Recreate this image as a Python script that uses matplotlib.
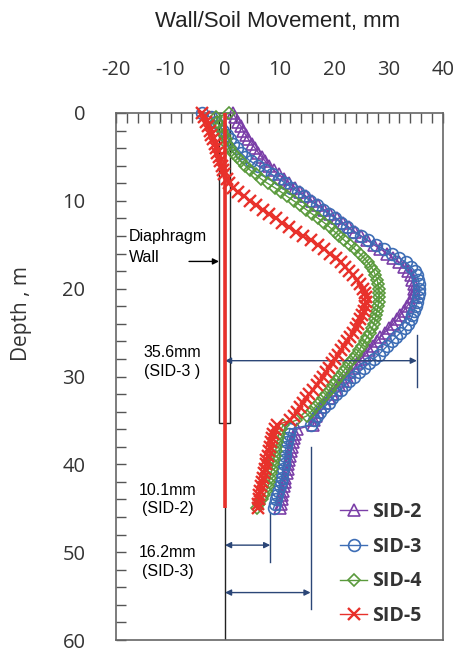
import numpy as np
import matplotlib
matplotlib.use("Agg")
import matplotlib.pyplot as plt
from matplotlib.patches import Rectangle

plt.rcParams["axes.unicode_minus"] = False

# depth of the inclinometer readings (m)
depth = [0.0, 0.5, 1.0, 1.5, 2.0, 2.5, 3.0, 3.5, 4.0, 4.5, 5.0, 5.5, 6.0, 6.5, 7.0, 7.5,
         8.0, 8.5, 9.0, 9.5, 10.0, 10.5, 11.0, 11.5, 12.0, 12.5, 13.0, 13.5, 14.0, 14.5,
         15.0, 15.5, 16.0, 16.5, 17.0, 17.5, 18.0, 18.5, 19.0, 19.5, 20.0, 20.5, 21.0,
         21.5, 22.0, 22.5, 23.0, 23.5, 24.0, 24.5, 25.0, 25.5, 26.0, 26.5, 27.0, 27.5,
         28.0, 28.5, 29.0, 29.5, 30.0, 30.5, 31.0, 31.5, 32.0, 32.5, 33.0, 33.5, 34.0,
         34.5, 35.0, 35.5, 36.0, 36.5, 37.0, 37.5, 38.0, 38.5, 39.0, 39.5, 40.0, 40.5,
         41.0, 41.5, 42.0, 42.5, 43.0, 43.5, 44.0, 44.5, 45.0]

# movement (mm)
sid2 = [1.5, 1.9, 2.4, 2.9, 3.3, 3.8, 4.3, 4.9, 5.5, 6.1, 6.7, 7.4, 8.1, 8.9, 9.9, 10.8,
        11.8, 12.8, 13.8, 14.9, 16.0, 17.1, 18.2, 19.3, 20.5, 21.6, 22.7, 23.8, 25.0, 26.1,
        27.3, 28.5, 29.8, 30.9, 32.0, 32.9, 33.6, 34.1, 34.4, 34.6, 34.7, 34.7, 34.5,
        34.0, 33.4, 32.8, 32.2, 31.6, 30.9, 30.1, 29.3, 28.5, 27.8, 27.1, 26.4, 25.7,
        25.0, 24.3, 23.7, 23.0, 22.3, 21.6, 21.0, 20.3, 19.6, 19.0, 18.3, 17.6, 17.1,
        16.7, 16.4, 16.2, 13.2, 12.9, 12.6, 12.4, 12.3, 12.1, 12.0, 11.8, 11.6, 11.5,
        11.3, 11.1, 11.0, 10.8, 10.7, 10.5, 10.4, 10.3, 10.1]
sid3 = [-4.3, -2.6, -1.6, -0.9, -0.3, 0.3, 0.9, 1.5, 2.2, 2.9, 3.7, 4.7, 6.0, 7.4, 8.6, 9.9,
        11.1, 12.2, 13.4, 14.5, 15.6, 16.8, 17.9, 19.0, 20.2, 21.3, 22.4, 23.5, 24.9, 26.3,
        27.7, 29.1, 30.6, 32.0, 33.2, 34.1, 34.8, 35.2, 35.5, 35.6, 35.6, 35.6, 35.5,
        35.3, 35.0, 34.7, 34.4, 34.1, 33.6, 33.0, 32.2, 31.4, 30.6, 29.8, 29.0, 28.2,
        27.3, 26.4, 25.5, 24.6, 23.7, 22.8, 22.0, 21.2, 20.4, 19.7, 19.0, 18.2, 17.5,
        16.9, 16.3, 15.8, 11.9, 11.7, 11.5, 11.3, 11.2, 11.1, 11.0, 10.9, 10.8, 10.7,
        10.5, 10.4, 10.2, 10.0, 9.8, 9.6, 9.4, 9.2, 8.9]
sid4 = [0.8, -1.6, -1.4, -1.0, -0.6, -0.2, 0.1, 0.4, 0.9, 1.5, 2.2, 2.9, 3.7, 4.6, 5.6, 6.6,
        7.8, 9.1, 10.3, 11.4, 12.6, 13.8, 14.9, 16.0, 17.1, 18.2, 19.2, 20.1, 21.0, 21.9,
        22.9, 23.8, 24.7, 25.5, 26.2, 26.8, 27.3, 27.6, 27.9, 28.1, 28.2, 28.3, 28.3,
        28.2, 28.1, 27.9, 27.7, 27.5, 27.3, 27.0, 26.6, 26.1, 25.6, 25.1, 24.6, 24.0,
        23.4, 22.8, 22.2, 21.6, 21.0, 20.4, 19.8, 19.2, 18.6, 18.0, 17.2, 16.5, 15.8,
        15.0, 13.0, 10.7, 10.3, 9.9, 9.7, 9.6, 9.4, 9.3, 9.1, 8.9, 8.8, 8.6,
        8.5, 8.3, 8.1, 7.9, 7.6, 7.2, 6.8, 6.3, 5.8]
sid5 = [-4.3, -3.9, -3.5, -3.1, -2.8, -2.5, -2.2, -1.9, -1.7, -1.4, -1.1, -0.9, -0.6, -0.4,
        -0.1, 0.3, 0.8, 1.5, 2.4, 3.5, 4.6, 5.7, 6.9, 8.1, 9.3, 10.5, 11.8, 13.1, 14.4, 15.7,
        17.0, 18.2, 19.3, 20.3, 21.2, 22.0, 22.8, 23.5, 24.2, 24.8, 25.3, 25.6, 25.8,
        25.8, 25.7, 25.5, 25.2, 24.8, 24.4, 24.0, 23.5, 23.0, 22.4, 21.8, 21.3, 20.8,
        20.2, 19.7, 19.1, 18.5, 18.0, 17.4, 16.8, 16.1, 15.5, 14.9, 14.3, 13.7, 13.2,
        12.6, 12.0, 9.5, 9.1, 8.8, 8.6, 8.4, 8.2, 8.0, 7.8, 7.6, 7.5, 7.3,
        7.1, 6.9, 6.7, 6.6, 6.4, 6.3, 6.2, 6.1, 6.0]

labels = ["SID-2", "SID-3", "SID-4", "SID-5"]
colors = ["#7b3fa8", "#3d6db5", "#5a9a3c", "#e8312b"]

wall_depth = 35.3     # diaphragm wall toe
red_depth = 45.0

fig = plt.figure(figsize=(4.58, 6.54), dpi=100)
ax = fig.add_axes([116 / 458, 1 - 640 / 654, 327 / 458, 527 / 654])

# wall
ax.add_patch(Rectangle((-1.05, 0), 1.9, wall_depth, fill=False, ec="#222222", lw=1.0,
                       zorder=2, clip_on=False))
ax.plot([0, 0], [0, 60], color="#222222", lw=1.0, zorder=1)

ax.plot(sid2, depth, color=colors[0], marker="^", mfc="none", ms=8, mew=1.2, lw=1,
        label=labels[0], clip_on=False, zorder=3)
ax.plot(sid3, depth, color=colors[1], marker="o", mfc="none", ms=8.5, mew=1.2, lw=1,
        label=labels[1], clip_on=False, zorder=3)
ax.plot(sid4, depth, color=colors[2], marker="D", mfc="none", ms=6.3, mew=1.2, lw=1,
        label=labels[2], clip_on=False, zorder=3)
ax.plot(sid5, depth, color=colors[3], marker="x", ms=8, mew=1.7, lw=1,
        label=labels[3], clip_on=False, zorder=4)

ax.plot([0, 0], [0, red_depth], color=colors[3], lw=2.6, zorder=6, solid_capstyle="butt")

# dimension arrows
navy = "#2b4677"
akw = dict(arrowstyle="<|-|>", color=navy, lw=1.0, mutation_scale=9, shrinkA=0, shrinkB=0)
ax.annotate("", xy=(35.2, 28.2), xytext=(0, 28.2), arrowprops=akw)
ax.annotate("", xy=(8.3, 49.2), xytext=(0, 49.2), arrowprops=akw)
ax.annotate("", xy=(15.7, 54.6), xytext=(0, 54.6), arrowprops=akw)
ax.plot([35.2, 35.2], [25.3, 31.2], color=navy, lw=1.0)
ax.plot([8.3, 8.3], [45.4, 51.1], color=navy, lw=1.0)
ax.plot([15.7, 15.7], [38.0, 56.5], color=navy, lw=1.0)

ax.annotate("", xy=(-1.1, 16.9), xytext=(-6.6, 16.9),
            arrowprops=dict(arrowstyle="-|>", color="black", lw=1.0, mutation_scale=9,
                            shrinkA=0, shrinkB=0))

tfont = dict(family="Liberation Sans", fontsize=11.5, color="black")
ax.text(-17.6, 14.1, "Diaphragm", ha="left", va="center", **tfont)
ax.text(-17.6, 16.5, "Wall", ha="left", va="center", **tfont)
ax.text(-9.7, 28.35, "35.6mm\n(SID-3 )", ha="center", va="center", linespacing=1.3, **tfont)
ax.text(-10.5, 44.0, "10.1mm\n(SID-2)", ha="center", va="center", linespacing=1.3, **tfont)
ax.text(-10.5, 51.1, "16.2mm\n(SID-3)", ha="center", va="center", linespacing=1.3, **tfont)

ax.set_xlim(-20, 40)
ax.set_ylim(60, 0)
ax.xaxis.tick_top()
ax.set_xticks(np.arange(-20, 41, 10))
ax.set_xticks(np.arange(-20, 41, 2), minor=True)
ax.set_yticks(np.arange(0, 61, 10))
ax.set_yticks(np.arange(0, 61, 2), minor=True)
ax.tick_params(which="both", direction="in", length=7, width=1, color="#555555",
               top=True, bottom=False, left=True, right=False)
ax.tick_params(axis="x", which="major", pad=24, labelsize=14.5, labelcolor="#333333")
ax.tick_params(axis="y", which="major", pad=22, labelsize=14.5, labelcolor="#333333")
for lab in ax.get_xticklabels() + ax.get_yticklabels():
    lab.set_family("Open Sans")
for s in ax.spines.values():
    s.set_color("#666666")
    s.set_linewidth(1.2)

ax.set_ylabel("Depth , m", family="Open Sans", fontsize=15, color="#333333")
ax.yaxis.set_label_coords(-0.257, 0.62)

fig.text(0.605, 1 - 22 / 654, "Wall/Soil Movement, mm", ha="center", va="center",
         family="Liberation Sans", fontsize=16, color="#222222")

leg = ax.legend(loc="upper left", bbox_to_anchor=(0.655, 0.28), frameon=False,
                handlelength=1.4, handletextpad=0.25, labelspacing=0.75, borderpad=0,
                prop=dict(family="Open Sans", weight="bold", size=14))
for t in leg.get_texts():
    t.set_color("#333333")

fig.savefig("out.png", dpi=100)
